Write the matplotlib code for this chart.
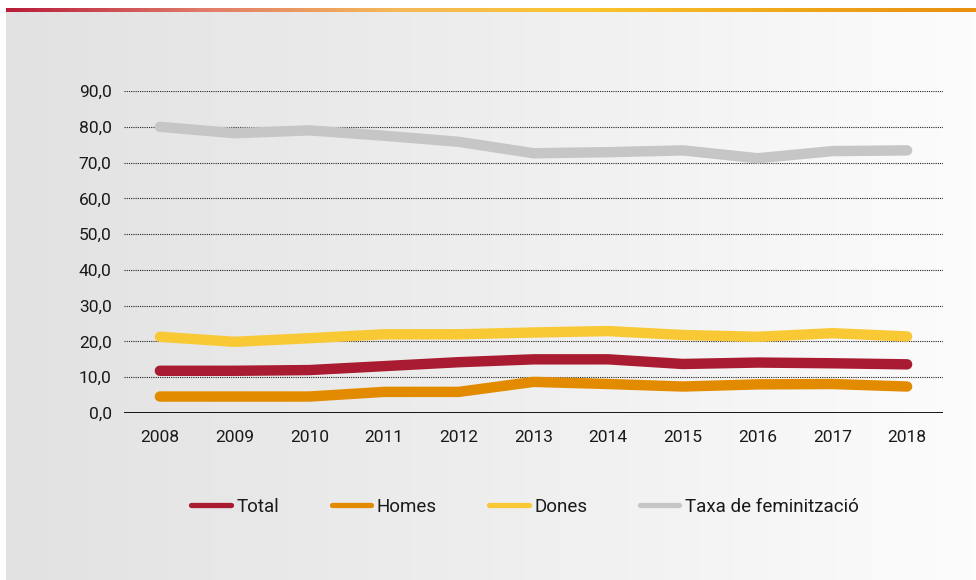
import matplotlib
matplotlib.use("Agg")
import matplotlib.pyplot as plt
import numpy as np
from matplotlib.colors import LinearSegmentedColormap

plt.rcParams["font.family"] = ["Roboto", "DejaVu Sans"]

# data
years = [2008, 2009, 2010, 2011, 2012, 2013, 2014, 2015, 2016, 2017, 2018]
total = [11.8, 11.8, 12.0, 13.1, 14.2, 15.0, 15.0, 13.7, 14.1, 13.9, 13.6]
homes = [4.6, 4.6, 4.6, 5.9, 5.9, 8.7, 8.1, 7.4, 8.0, 8.1, 7.4]
dones = [21.3, 19.9, 20.9, 22.0, 22.0, 22.5, 22.9, 21.8, 21.3, 22.3, 21.4]
taxa = [80.0, 78.2, 79.0, 77.5, 75.8, 72.6, 72.9, 73.4, 71.2, 73.2, 73.4]
series_names = ["Total", "Homes", "Dones", "Taxa de feminització"]
y_ticks = [0, 10, 20, 30, 40, 50, 60, 70, 80, 90]

COLORS = ["#a91b30", "#e38b00", "#f9c935", "#c6c6c6"]
INK = "#1a1a1a"
W, H = 976, 580

fig = plt.figure(figsize=(W / 100, H / 100), dpi=100)

# background panel + top gradient bar
bg = fig.add_axes([0, 0, 1, 1], zorder=-5)
bg.set_xlim(0, W); bg.set_ylim(H, 0); bg.axis("off")
grey = LinearSegmentedColormap.from_list("g", ["#e2e2e2", "#eeeeee", "#fcfcfc"])
bg.imshow(np.linspace(0, 1, 256)[None, :], cmap=grey, aspect="auto",
          extent=(6, W, H, 12))
bar = LinearSegmentedColormap.from_list(
    "b", ["#b81c3a", "#e07a6a", "#f5b85a", "#fac52e", "#f0a81c", "#e8900f"])
bg.imshow(np.linspace(0, 1, 256)[None, :], cmap=bar, aspect="auto",
          extent=(6, W, 12, 8))

ax = fig.add_axes([124 / W, 1 - 413 / H, 819 / W, 322 / H])
ax.patch.set_alpha(0)
for s in ax.spines.values():
    s.set_visible(False)

for yv in y_ticks[1:]:
    ax.axhline(yv, color="#222222", lw=0.8, ls=(0, (1, 1)), zorder=1)
ax.axhline(0, color="#000000", lw=2, zorder=1)

for vals, c, name in zip([total, homes, dones, taxa], COLORS, series_names):
    ax.plot(years, vals, color=c, lw=7.5, solid_capstyle="round",
            solid_joinstyle="round", label=name, zorder=3, clip_on=False)

ax.set_xlim(2007.52, 2018.48)
ax.set_ylim(0, 90)
ax.set_yticks(y_ticks, [f"{v:.1f}".replace(".", ",") for v in y_ticks])
ax.set_xticks(years, [str(y) for y in years])
ax.tick_params(axis="both", length=0, labelsize=12.5, colors=INK)
ax.tick_params(axis="y", pad=9)
ax.tick_params(axis="x", pad=12)

handles, labels = ax.get_legend_handles_labels()
leg = fig.legend(handles, labels,
                 loc="center", bbox_to_anchor=(525 / W, 1 - 507 / H), ncol=4,
                 frameon=False, fontsize=13.5, handlelength=2.1,
                 handletextpad=0.3, columnspacing=2.8)
for line in leg.get_lines():
    line.set_linewidth(3.8)
for t in leg.get_texts():
    t.set_color(INK)

fig.savefig("out.png", dpi=100)
